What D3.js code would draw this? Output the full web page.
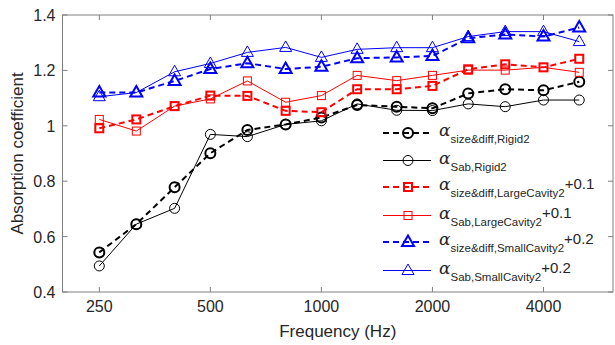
<!DOCTYPE html>
<html><head><meta charset="utf-8">
<script src="https://cdn.jsdelivr.net/npm/d3@7"></script>
<style>body{margin:0;background:#fff}svg{display:block;font-family:"Liberation Sans",Arial,sans-serif}</style>
</head><body><svg id="c" width="615" height="345"></svg>
<script>
const freqs = [250,315,400,500,630,800,1000,1250,1600,2000,2500,3150,4000,5000];
const xTicks = [250,500,1000,2000,4000];
const yTicks = [0.4,0.6,0.8,1,1.2,1.4];
const sdRigid = [0.543,0.645,0.778,0.901,0.985,1.005,1.03,1.075,1.069,1.063,1.117,1.132,1.128,1.159];
const sabRigid = [0.494,0.645,0.702,0.969,0.961,1.005,1.018,1.079,1.056,1.055,1.079,1.069,1.093,1.093];
const sdLarge = [0.991,1.023,1.071,1.109,1.108,1.054,1.049,1.132,1.132,1.144,1.204,1.222,1.211,1.242];
const sabLarge = [1.023,0.981,1.071,1.097,1.162,1.085,1.109,1.182,1.163,1.182,1.201,1.201,1.211,1.193];
const sdSmall = [1.12,1.12,1.162,1.205,1.226,1.205,1.213,1.244,1.247,1.252,1.316,1.330,1.322,1.355];
const sabSmall = [1.105,1.12,1.195,1.225,1.265,1.283,1.247,1.276,1.282,1.282,1.322,1.340,1.340,1.304];
const seriesNames = ["size&diff,Rigid2","Sab,Rigid2","size&diff,LargeCavity2","Sab,LargeCavity2","size&diff,SmallCavity2","Sab,SmallCavity2"];
const seriesSuffix = ["","","+0.1","+0.1","+0.2","+0.2"];

const series = [
  {v:sdRigid, color:"#000000", dash:true, marker:"circle"},
  {v:sabRigid, color:"#000000", dash:false, marker:"circle"},
  {v:sdLarge, color:"#ff0000", dash:true, marker:"square"},
  {v:sabLarge, color:"#ff0000", dash:false, marker:"square"},
  {v:sdSmall, color:"#0000ff", dash:true, marker:"triangle"},
  {v:sabSmall, color:"#0000ff", dash:false, marker:"triangle"}
];

const L=62.5, R=613, T=15, B=292;
const svg = d3.select("#c");
const x = d3.scaleLog().domain([250,4000]).range([99.3,543.5]);
const y = d3.scaleLinear().domain([0.4,1.4]).range([B,T]);
const axisCol = "#808080", textCol = "#262626";

svg.append("rect").attr("x",L).attr("y",T).attr("width",R-L).attr("height",B-T)
  .attr("fill","none").attr("stroke",axisCol).attr("stroke-width",1);
const tl=5;
xTicks.forEach(t=>{
  const px=x(t);
  svg.append("line").attr("x1",px).attr("x2",px).attr("y1",B).attr("y2",B-tl).attr("stroke",axisCol);
  svg.append("line").attr("x1",px).attr("x2",px).attr("y1",T).attr("y2",T+tl).attr("stroke",axisCol);
  svg.append("text").attr("x",px).attr("y",B+20).attr("text-anchor","middle").attr("font-size",16).attr("fill",textCol).text(t);
});
yTicks.forEach(t=>{
  const py=y(t);
  svg.append("line").attr("x1",L).attr("x2",L+tl).attr("y1",py).attr("y2",py).attr("stroke",axisCol);
  svg.append("line").attr("x1",R).attr("x2",R-tl).attr("y1",py).attr("y2",py).attr("stroke",axisCol);
  svg.append("text").attr("x",L-7).attr("y",py+6).attr("text-anchor","end").attr("font-size",16).attr("fill",textCol).text(t);
});
svg.append("text").attr("x",(L+R)/2).attr("y",337).attr("text-anchor","middle").attr("font-size",17).attr("fill",textCol).text("Frequency (Hz)");
svg.append("text").attr("transform",`translate(23,${(T+B)/2}) rotate(-90)`).attr("text-anchor","middle").attr("font-size",17).attr("fill",textCol).text("Absorption coefficient");

function drawMarker(g, mk, cx, cy){
  if(mk==="circle") g.append("circle").attr("cx",cx).attr("cy",cy).attr("r",5);
  else if(mk==="square") g.append("rect").attr("x",cx-4).attr("y",cy-4).attr("width",8).attr("height",8);
  else g.append("path").attr("d",`M${cx},${cy-6.5}L${cx+6},${cy+4}L${cx-6},${cy+4}Z`);
}

const line = d3.line().x((d,i)=>x(freqs[i])).y(d=>y(d));
series.forEach(s=>{
  const g = svg.append("g").attr("fill","none").attr("stroke",s.color)
    .attr("stroke-width", s.dash?2:1);
  g.append("path").attr("d",line(s.v)).attr("stroke-dasharray", s.dash?"6,4":null);
  s.v.forEach((v,i)=>drawMarker(g,s.marker,x(freqs[i]),y(v)));
});

const legY0=132.5, legDy=27.4;
series.forEach((s,i)=>{
  const cy = Math.round(legY0 + i*legDy) + (s.dash?0:0.5);
  const g = svg.append("g").attr("fill","none").attr("stroke",s.color).attr("stroke-width", s.dash?2:1);
  g.append("line").attr("x1",383).attr("x2",431).attr("y1",cy).attr("y2",cy).attr("stroke-dasharray", s.dash?"6,4":null);
  drawMarker(g,s.marker,408,cy);
  const t = svg.append("text").attr("x",439).attr("y",cy+3).attr("fill",textCol).attr("font-size",15);
  t.append("tspan").attr("font-family","'DejaVu Serif','Liberation Serif',serif").attr("font-style","italic").attr("font-size",17).text("α");
  t.append("tspan").attr("dy",7).attr("font-size",11.5).text(seriesNames[i]);
  if(seriesSuffix[i]) t.append("tspan").attr("dy",-8).attr("font-size",15).text(seriesSuffix[i]);
});
</script></body></html>
